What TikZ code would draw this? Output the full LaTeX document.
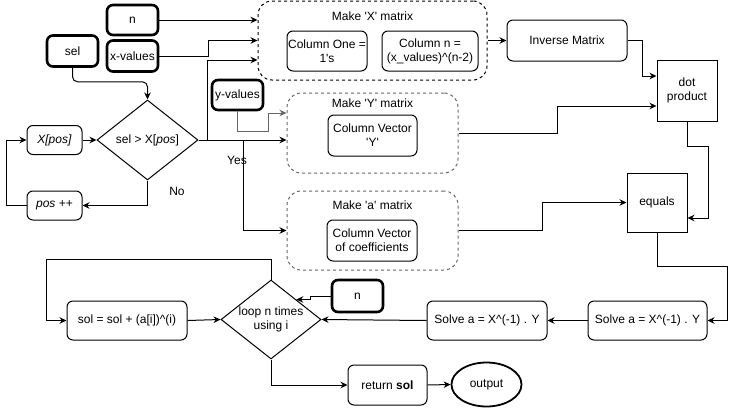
\documentclass[tikz,border=0pt]{standalone}
\usepackage{fontspec}
\setmainfont{Liberation Sans}
\usetikzlibrary{shapes.geometric,arrows.meta}
\begin{document}
\begin{tikzpicture}[x=1pt,y=-1pt,
  every node/.style={font=\fontsize{12}{14}\selectfont, align=center, inner sep=1pt},
  rbox/.style={draw, line width=1pt, rounded corners=6pt},
  sqbox/.style={draw, line width=1pt},
  tbox/.style={draw, line width=2.6pt, rounded corners=6pt},
  cont/.style={draw, line width=1pt, dash pattern=on 3pt off 3pt, rounded corners=14pt},
  gcont/.style={cont, draw=black!60},
  dia/.style={draw, line width=1pt, diamond, inner sep=0pt},
  arr/.style={line width=1pt, -{Stealth[length=7pt,width=6.5pt]}},
  garr/.style={arr, draw=black!60},
  lbl/.style={inner sep=0pt}
]
\useasboundingbox (0,0) rectangle (736,407);

% inputs
\node[tbox, minimum width=51pt, minimum height=30pt] (nT) at (132.5,20) {n};
\node[tbox, minimum width=51pt, minimum height=31pt] (xval) at (132.5,56) {x-values};
\node[tbox, minimum width=51pt, minimum height=31pt] (sel) at (72.5,51) {sel};
\node[tbox, minimum width=51pt, minimum height=30pt] (yval) at (237.5,95) {y-values};

% search loop
\node[dia, minimum width=101pt, minimum height=80pt] (d1) at (147.5,140) {};
\node[lbl] (d1t) at (d1) {sel > X[\textit{pos}]};
\node[rbox, minimum width=55pt, minimum height=29pt] (xpos) at (54.5,140) {\textit{X[pos]}};
\node[rbox, minimum width=55pt, minimum height=29pt] (posinc) at (54.5,205.5) {\textit{pos} ++};
\node[lbl] (yes) at (237,160) {Yes};
\node[lbl] (no) at (177,191) {No};

% containers
\node[cont, minimum width=229pt, minimum height=79pt] (MX) at (372.5,40.5) {};
\node[lbl] (MXt) at (372.5,16) {Make \textquotesingle X\textquotesingle{} matrix};
\node[rbox, minimum width=80pt, minimum height=40pt] (c1) at (327,51) {Column One =\\1\textquotesingle s};
\node[rbox, minimum width=96pt, minimum height=40pt] (cn) at (430,51) {Column n =\\(x\_values)\textasciicircum(n-2)};

\node[gcont, minimum width=171pt, minimum height=80pt] (MY) at (372.5,133) {};
\node[lbl] (MYt) at (372.5,103) {Make \textquotesingle Y\textquotesingle{} matrix};
\node[rbox, minimum width=89pt, minimum height=41pt] (cy) at (372.5,135.5) {Column Vector\\\textquotesingle Y\textquotesingle};

\node[gcont, minimum width=171pt, minimum height=79pt] (MA) at (372.5,230.5) {};
\node[lbl] (MAt) at (372.5,205) {Make \textquotesingle a\textquotesingle{} matrix};
\node[rbox, minimum width=90pt, minimum height=41pt] (ca) at (372,240.5) {Column Vector\\of coefficients};

% right column
\node[rbox, minimum width=120pt, minimum height=41pt] (inv) at (567,40.5) {Inverse Matrix};
\node[sqbox, minimum width=60pt, minimum height=61pt] (dot) at (687,90.5) {dot\\product};
\node[sqbox, minimum width=60pt, minimum height=59pt] (eq) at (657,202.5) {equals};
\node[rbox, minimum width=119pt, minimum height=39pt] (solveR) at (647.5,320.5) {Solve a = X\textasciicircum(-1) . Y};
\node[rbox, minimum width=120pt, minimum height=39pt] (solveL) at (487,320.5) {Solve a = X\textasciicircum(-1) . Y};

% bottom loop
\node[dia, minimum width=100pt, minimum height=79pt] (loop) at (271,319.5) {};
\node[lbl] (loopt) at (loop) {loop n times\\using i};
\node[rbox, minimum width=120pt, minimum height=39pt] (solb) at (127,320.5) {sol = sol + (a[i])\textasciicircum(i)};
\node[tbox, minimum width=51pt, minimum height=32pt] (nB) at (357.5,296) {n};
\node[rbox, minimum width=79pt, minimum height=40pt] (ret) at (387.5,385) {return \textbf{sol}};
\node[draw, ellipse, line width=1.8pt, minimum width=70pt, minimum height=44pt] (out) at (486.5,384.5) {output};

% connectors
\coordinate (mxin) at ([yshift=-19.5pt]MX.west);
\draw[arr] (nT.east) -- (nT.east -| MX.west);
\draw[arr] (xval.east) -- ++(49,0) |- (MX.west);
\draw[arr] (d1.east) -- ++(9,0) |- (mxin);
\draw[arr] (d1.east) -- (MY.west |- d1.east);
\draw[arr] ([xshift=45pt]d1.east) |- (MA.west);
\draw[garr] (yval.south) |- ++(30.5,20) |- ([yshift=20pt]MY.west);

\draw[arr, rounded corners=5pt] (sel.south) |- ++(75,14) -- (d1.north);
\draw[arr] (xpos.east) -- (d1.west);
\draw[arr] (d1.south) |- (posinc.east);
\draw[arr] (posinc.west) -- ++(-20,0) |- (xpos.west);

\draw[arr] (MX.east) -- (inv.west);
\draw[arr] (inv.east) -- ++(15,0) |- ([yshift=14.5pt]dot.west);
\draw[arr] (MY.east) -- ++(99,0) |- ([yshift=-15.5pt]dot.west);
\draw[arr] (dot.south) -- ++(0,24.5) -| ([xshift=20.5pt,yshift=-15.5pt]eq.east) -- ([yshift=-15.5pt]eq.east);
\draw[arr] (MA.east) -- ++(84,0) |- (eq.west);
\draw[arr] (eq.south) -- ++(0,34) -| ([xshift=20pt]solveR.east) -- (solveR.east);
\draw[arr] (solveR.west) -- (solveL.east);
\draw[arr] (solveL.west) -- (loop.east);
\draw[arr] (nB.west) -- ++(-20,0) |- (loop.north east);
\draw[arr] (loop.north) -- ++(0,-20) -| ([xshift=-20pt]solb.west) -- (solb.west);
\draw[arr] (solb.east) -- (loop.west);
\draw[arr] (loop.south) |- (ret.west);
\draw[arr] (ret.east) -- (out.west);
\end{tikzpicture}
\end{document}
